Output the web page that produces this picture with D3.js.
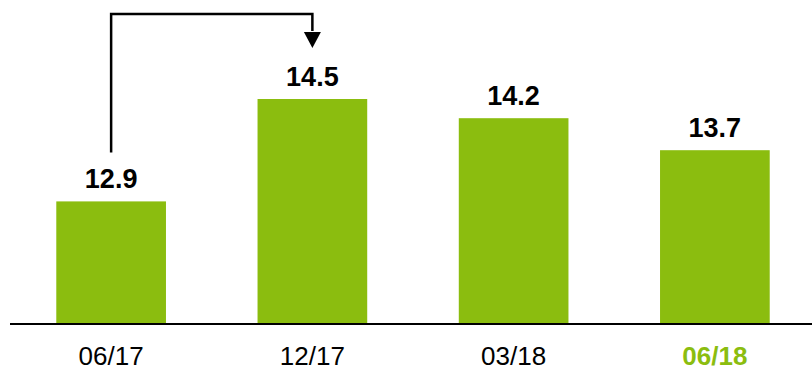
<!DOCTYPE html>
<html>
<head>
<meta charset="utf-8">
<script src="https://cdn.jsdelivr.net/npm/d3@7"></script>
<style>
  body { margin: 0; background: #fff; }
  svg { font-family: "Liberation Sans", Arial, sans-serif; display: block; }
</style>
</head>
<body>
<div id="chart"></div>
<script>
// data
const categories = ["06/17", "12/17", "03/18", "06/18"];
const values = [12.9, 14.5, 14.2, 13.7];
const highlight = ["06/18"];

const width = 812, height = 371;
const green = "#8bbd0f";

const svg = d3.select("#chart").append("svg")
    .attr("width", width)
    .attr("height", height);

const x = d3.scaleBand()
    .domain(categories)
    .range([10, 816])
    .paddingInner(0.455)
    .paddingOuter(0.23);

const y = d3.scaleLinear()
    .domain([11, 15])
    .range([323, 67]);

// bars
svg.selectAll(".bar")
    .data(values)
    .enter()
    .append("rect")
    .attr("fill", green)
    .attr("x", (d, i) => x(categories[i]))
    .attr("y", d => y(d))
    .attr("width", x.bandwidth())
    .attr("height", d => y(11) - y(d));

// value labels
svg.selectAll(".val")
    .data(values)
    .enter()
    .append("text")
    .attr("x", (d, i) => x(categories[i]) + x.bandwidth() / 2)
    .attr("y", d => y(d) - 13)
    .attr("text-anchor", "middle")
    .style("font-size", "27px")
    .style("font-weight", "bold")
    .attr("fill", "#000")
    .text(d => d.toFixed(1));

// x axis baseline
svg.append("line")
    .attr("x1", 10).attr("x2", width)
    .attr("y1", 324).attr("y2", 324)
    .attr("stroke", "#000")
    .attr("stroke-width", 2);

// category labels
svg.selectAll(".cat")
    .data(categories)
    .enter()
    .append("text")
    .attr("x", d => x(d) + x.bandwidth() / 2)
    .attr("y", 365)
    .attr("text-anchor", "middle")
    .style("font-size", "26px")
    .style("font-weight", d => highlight.includes(d) ? "bold" : "normal")
    .attr("fill", d => highlight.includes(d) ? green : "#000")
    .text(d => d);

// connector arrow from first bar label to second
const cx0 = x(categories[0]) + x.bandwidth() / 2;
const cx1 = x(categories[1]) + x.bandwidth() / 2;
const topY = 14;
svg.append("path")
    .attr("d", `M${cx0},${y(values[0]) - 49} V${topY} H${cx1} V${y(values[1]) - 68}`)
    .attr("fill", "none")
    .attr("stroke", "#000")
    .attr("stroke-width", 2.5);

const tipY = y(values[1]) - 51;
svg.append("path")
    .attr("d", `M${cx1 - 8.5},${tipY - 16} L${cx1 + 8.5},${tipY - 16} L${cx1},${tipY} Z`)
    .attr("fill", "#000");
</script>
</body>
</html>
